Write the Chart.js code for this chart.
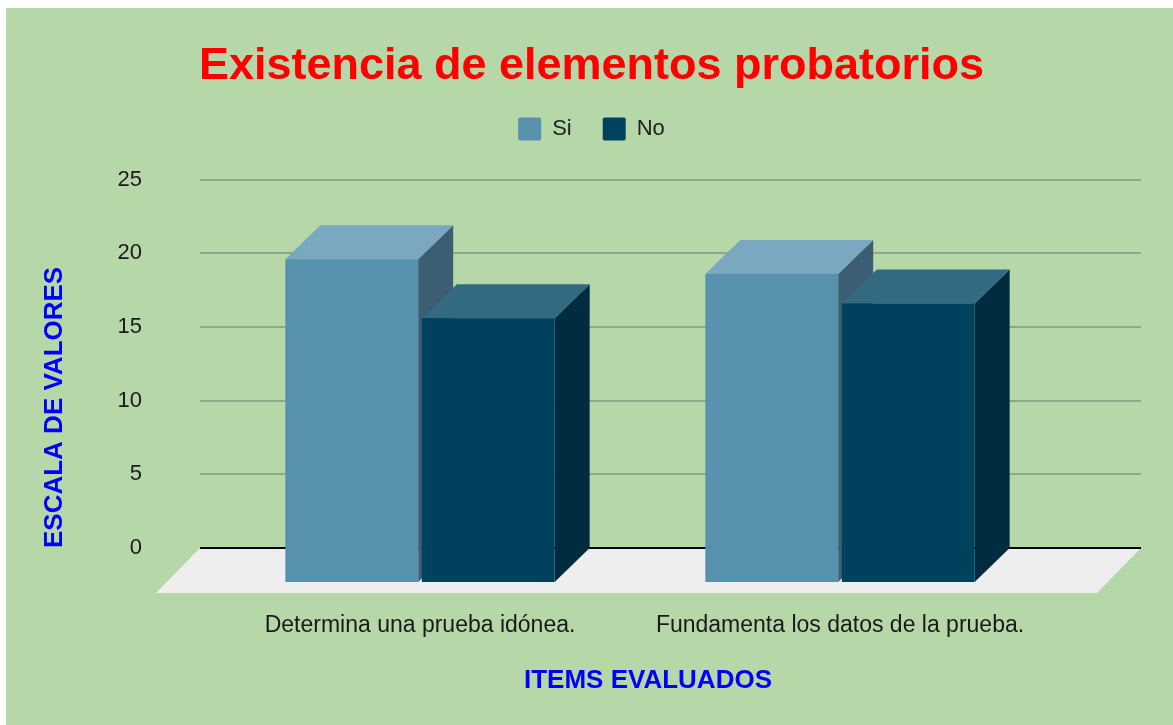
<!DOCTYPE html>
<html>
<head>
<meta charset="utf-8">
<script src="https://cdn.jsdelivr.net/npm/chart.js@4.4.1/dist/chart.umd.min.js"></script>
<style>
  html, body { margin: 0; padding: 0; background: #fff; }
  #wrap { width: 1173px; height: 725px; }
</style>
</head>
<body>
<div id="wrap"><canvas id="chart" width="1173" height="725"></canvas></div>
<script>
const categories = ["Determina una prueba idónea.", "Fundamenta los datos de la prueba."];
const seriesNames = ["Si", "No"];
const siValues = [20, 19];
const noValues = [16, 17];
const yTicks = [0, 5, 10, 15, 20, 25];
const xTitle = "ITEMS EVALUADOS";

const FONT = "'Liberation Sans', Arial, sans-serif";

// colours for each face of the boxes, same order as the datasets
const faces = [
  { front: "#5891ae", top: "#79a8c0", side: "#3b5e72" },
  { front: "#00425e", top: "#336a82", side: "#012b3e" },
];

// fake 3D: depth offset of the boxes and of the floor
const DEPTH_X = 35;
const DEPTH_Y = 34;
const FLOOR_X = 44;
const FLOOR_Y = 45;

function poly(ctx, pts, color) {
  ctx.beginPath();
  ctx.moveTo(pts[0][0], pts[0][1]);
  for (let i = 1; i < pts.length; i++) ctx.lineTo(pts[i][0], pts[i][1]);
  ctx.closePath();
  ctx.fillStyle = color;
  ctx.fill();
}

const box3d = {
  id: "box3d",
  beforeDraw(chart) {
    const ctx = chart.ctx;
    ctx.save();
    ctx.fillStyle = "#ffffff";
    ctx.fillRect(0, 0, chart.width, chart.height);
    ctx.fillStyle = "#b6d7a8";
    ctx.fillRect(6, 8, chart.width, chart.height);
    ctx.restore();
  },
  beforeDatasetsDraw(chart) {
    const ctx = chart.ctx;
    const area = chart.chartArea;
    const y = chart.scales.y;
    const left = area.left - 10;
    const right = area.right + 91;
    const zero = y.getPixelForValue(0);
    ctx.save();
    // gridlines
    ctx.strokeStyle = "#8ea987";
    ctx.lineWidth = 2;
    yTicks.forEach((v) => {
      if (v === 0) return;
      const py = Math.round(y.getPixelForValue(v));
      ctx.beginPath();
      ctx.moveTo(left, py);
      ctx.lineTo(right, py);
      ctx.stroke();
    });
    // floor
    poly(ctx, [
      [left, zero],
      [right, zero],
      [right - FLOOR_X, zero + FLOOR_Y],
      [left - FLOOR_X, zero + FLOOR_Y],
    ], "#eeeeee");
    ctx.strokeStyle = "#000000";
    ctx.beginPath();
    ctx.moveTo(left, zero);
    ctx.lineTo(right, zero);
    ctx.stroke();
    ctx.restore();
  },
  beforeDatasetDraw() {
    return false;
  },
  afterDatasetsDraw(chart) {
    const ctx = chart.ctx;
    ctx.save();
    // left to right so the next box covers the side of the previous one
    for (let i = 0; i < categories.length; i++) {
      chart.data.datasets.forEach((ds, d) => {
        const el = chart.getDatasetMeta(d).data[i];
        const p = el.getProps(["x", "y", "base", "width"], true);
        const l = p.x - p.width / 2;
        const r = p.x + p.width / 2;
        const t = p.y + 6;
        const b = p.base + DEPTH_Y;
        const f = faces[d];
        poly(ctx, [[r, t], [r + DEPTH_X, t - DEPTH_Y], [r + DEPTH_X, b - DEPTH_Y], [r, b]], f.side);
        poly(ctx, [[l, t], [l + DEPTH_X, t - DEPTH_Y], [r + DEPTH_X, t - DEPTH_Y], [r, t]], f.top);
        ctx.fillStyle = f.front;
        ctx.fillRect(l, t, r - l, b - t);
      });
    }
    ctx.restore();
  },
  afterDraw(chart) {
    // x axis title sits a little right of the plot centre in the original
    const ctx = chart.ctx;
    const area = chart.chartArea;
    ctx.save();
    ctx.font = "bold 26px " + FONT;
    ctx.fillStyle = "#0000ff";
    ctx.textAlign = "center";
    ctx.textBaseline = "middle";
    ctx.fillText(xTitle, (area.left + area.right) / 2 + 18, area.bottom + 133);
    ctx.restore();
  },
};

new Chart(document.getElementById("chart"), {
  type: "bar",
  data: {
    labels: categories,
    datasets: [
      {
        label: seriesNames[0],
        data: siValues,
        backgroundColor: faces[0].front,
        borderWidth: 0,
      },
      {
        label: seriesNames[1],
        data: noValues,
        backgroundColor: faces[1].front,
        borderWidth: 0,
      },
    ],
  },
  options: {
    responsive: false,
    animation: false,
    devicePixelRatio: 1,
    categoryPercentage: 0.65,
    barPercentage: 0.973,
    layout: { padding: { left: 24, right: 14, top: 0, bottom: 0 } },
    plugins: {
      title: {
        display: true,
        text: "Existencia de elementos probatorios",
        color: "#ff0000",
        font: { family: FONT, size: 45, weight: "bold", lineHeight: 0.9 },
        padding: { top: 46, bottom: 0 },
      },
      legend: {
        position: "top",
        labels: {
          boxWidth: 23,
          boxHeight: 23,
          useBorderRadius: true,
          borderRadius: 2,
          padding: 31,
          color: "#222222",
          font: { family: FONT, size: 22 },
        },
      },
      tooltip: { enabled: false },
    },
    scales: {
      x: {
        grid: { display: false },
        border: { display: false },
        ticks: {
          color: "#1a1a1a",
          font: { family: FONT, size: 23 },
          padding: 56,
          maxRotation: 0,
          autoSkip: false,
        },
        afterFit: (s) => { s.height = 177; },
      },
      xTop: {
        type: "category",
        position: "top",
        grid: { display: false },
        border: { display: false },
        ticks: { display: false },
        afterFit: (s) => { s.height = 29; },
      },
      y: {
        min: 0,
        max: 25,
        grid: { display: false, drawTicks: false },
        border: { display: false },
        afterBuildTicks: (s) => { s.ticks = yTicks.map((v) => ({ value: v })); },
        ticks: {
          color: "#1a1a1a",
          font: { family: FONT, size: 22 },
          padding: 68,
        },
        title: {
          display: true,
          text: "ESCALA DE VALORES",
          align: "start",
          color: "#0000ff",
          font: { family: FONT, size: 26, weight: "bold" },
          padding: { top: 15, bottom: 0 },
        },
        afterFit: (s) => { s.width = 186; },
      },
      yRight: {
        type: "linear",
        position: "right",
        grid: { display: false },
        border: { display: false },
        ticks: { display: false },
        afterFit: (s) => { s.width = 109; },
      },
    },
  },
  plugins: [box3d],
});
</script>
</body>
</html>
